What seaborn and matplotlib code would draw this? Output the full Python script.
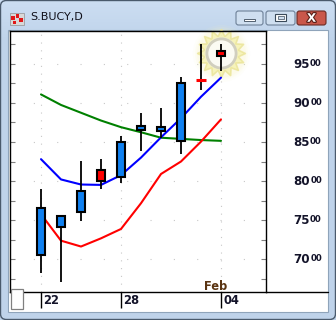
import numpy as np
import pandas as pd
import matplotlib
matplotlib.use("Agg")
import matplotlib.pyplot as plt
import seaborn as sns
from matplotlib.patches import Rectangle, FancyBboxPatch
from matplotlib.path import Path
import matplotlib.patheffects as pe

# ---------------- data ----------------
title = "S.BUCY,D"
dates = ["Jan 22", "Jan 23", "Jan 24", "Jan 25", "Jan 28",
         "Jan 29", "Jan 30", "Jan 31", "Feb 01", "Feb 04"]
opens = [7050, 7415, 7605, 8140, 8045, 8655, 8640, 8515, 9290, 9670]
highs = [7895, 7560, 8255, 8280, 8575, 8870, 8930, 9330, 9755, 9755]
lows = [6815, 6710, 7490, 7895, 7970, 8390, 8545, 8340, 9165, 9415]
closes = [7660, 7545, 7875, 8005, 8505, 8700, 8695, 9250, 9290, 9605]
ma_fast = [8280, 8020, 7955, 7950, 8075, 8300, 8560, 8805, 9080, 9325]
ma_mid = [7575, 7235, 7160, 7265, 7385, 7715, 8090, 8250, 8505, 8790]
ma_slow = [9110, 8975, 8875, 8775, 8690, 8625, 8555, 8540, 8525, 8515]
x_tick_pos = [0, 4, 9]
x_tick_labels = ["22", "28", "04"]
month_label = "Feb"
y_tick_vals = [7000, 7500, 8000, 8500, 9000, 9500]

df = pd.DataFrame({"idx": np.arange(len(dates)), "date": dates,
                   "open": opens, "high": highs, "low": lows, "close": closes,
                   "ma_fast": ma_fast, "ma_mid": ma_mid, "ma_slow": ma_slow})

# ---------------- figure / window chrome ----------------
sns.set_style("white")
plt.rcParams["font.family"] = ["DejaVu Sans"]
W, H = 336, 320
fig = plt.figure(figsize=(W / 100, H / 100), dpi=100)
fig.patch.set_facecolor("#bfd4eb")


def fx(x):
    return x / W


def fy(y):
    return 1 - y / H


def prect(x0, y0, x1, y1, zorder=-1, **kw):
    r = Rectangle((fx(x0), fy(y1)), (x1 - x0) / W, (y1 - y0) / H,
                  transform=fig.transFigure, zorder=zorder, **kw)
    fig.add_artist(r)
    return r


def pbox(x0, y0, x1, y1, rs=2.5, zorder=-1, **kw):
    r = FancyBboxPatch((fx(x0), fy(y1)), (x1 - x0) / W, (y1 - y0) / H,
                       boxstyle=f"round,pad=0,rounding_size={rs / W}",
                       transform=fig.transFigure, zorder=zorder, **kw)
    fig.add_artist(r)
    return r


# background gradient for the title bar
bg = fig.add_axes([0, 0, 1, 1], zorder=-10)
grad = np.linspace(0, 1, 320)[:, None]
c_top = np.array([0.80, 0.87, 0.95])
c_bot = np.array([0.75, 0.83, 0.92])
img = c_top + (c_bot - c_top) * np.clip(grad / 0.12, 0, 1)[..., None]
img = np.repeat(img, 2, axis=1)
bg.imshow(img, aspect="auto", extent=[0, 1, 0, 1], origin="upper")
bg.axis("off")

# outer border
pbox(0.5, 0.5, 335.5, 319.5, rs=6, facecolor="none", edgecolor="#4a5a6c", lw=1.0)
# client area
prect(8, 30, 328, 312, facecolor="white", edgecolor="#8fa4ba", lw=0.8)

# title icon
prect(10, 13, 24, 25, facecolor="#d8d8d8", edgecolor="#909090", lw=0.5)
for (a, b, c, d) in [(11, 16, 15, 20), (16, 14, 19, 18), (19, 18, 23, 22), (13, 21, 16, 24)]:
    prect(a, b, c, d, facecolor="#e01818", edgecolor="none")
fig.text(fx(30), fy(17), title, fontsize=8, color="#10101a", ha="left", va="center")

# caption buttons
pbox(236, 11, 263, 25, facecolor="#cfdff0", edgecolor="#6d8097", lw=0.8)
pbox(266, 11, 295, 25, facecolor="#cfdff0", edgecolor="#6d8097", lw=0.8)
pbox(297, 11, 326, 25, facecolor="#c9574a", edgecolor="#6b2a22", lw=0.8)
prect(244, 18.5, 255, 21, facecolor="white", edgecolor="#3a4a5a", lw=0.6)
prect(275, 13.5, 286, 21, facecolor="white", edgecolor="#3a4a5a", lw=0.8)
prect(277.5, 16, 283.5, 19, facecolor="#cfdff0", edgecolor="#3a4a5a", lw=0.5)
fig.text(fx(311.5), fy(18.3), "X", fontsize=8.5, fontweight="bold", color="white",
         ha="center", va="center",
         path_effects=[pe.withStroke(linewidth=1.6, foreground="#5a2018")])

# ---------------- chart axes ----------------
ax = fig.add_axes([fx(10), fy(292), 256 / W, 261 / H], zorder=1)
ax.set_facecolor("white")
ax.set_xlim(-1.55, 11.25)
ax.set_ylim(6577, 9923)

# dotted grid
for xv in x_tick_pos:
    ax.axvline(xv, color="#c8c8c8", lw=0.8, ls=(0, (1, 6)), zorder=0)
for yv in y_tick_vals:
    ax.axhline(yv, color="#c8c8c8", lw=0.8, ls=(0, (1, 20)), zorder=0)

# moving averages
sns.lineplot(data=df, x="idx", y="ma_slow", color="#008000", lw=1.5, ax=ax, zorder=2)
sns.lineplot(data=df, x="idx", y="ma_fast", color="#0000ff", lw=1.5, ax=ax, zorder=2)
sns.lineplot(data=df, x="idx", y="ma_mid", color="#ff0000", lw=1.5, ax=ax, zorder=2)

# highlight glow around last candle
n = 16
ang = np.linspace(0, 2 * np.pi, 2 * n, endpoint=False) + np.pi / 2
rad = np.where(np.arange(2 * n) % 2 == 0, 1.0, 0.72)
verts = np.column_stack([rad * np.cos(ang), rad * np.sin(ang)])
verts = np.vstack([verts, verts[:1]])
codes = [Path.MOVETO] + [Path.LINETO] * (2 * n - 1) + [Path.CLOSEPOLY]
star = Path(verts, codes)
gx = df["idx"].iloc[-1]
gy = (df["open"].iloc[-1] + df["close"].iloc[-1]) / 2
for s, a in [(1700, 0.08), (1450, 0.12), (1250, 0.16)]:
    ax.scatter([gx], [gy], s=s, marker="o", color="#f8f5c0", alpha=a, lw=0,
               zorder=1.5, clip_on=False)
ax.scatter([gx], [gy], s=1180, marker=star, facecolor="#f5f2b2", edgecolor="#ebe59a",
           lw=1.2, alpha=0.85, zorder=1.6, clip_on=False)
ax.scatter([gx], [gy], s=560, marker="o", facecolor="#f2f0c8", edgecolor="none",
           alpha=0.9, zorder=1.65, clip_on=False)
ax.scatter([gx], [gy], s=440, marker="o", facecolor="#fcfcf6", edgecolor="#cfcdbd",
           lw=2.0, alpha=0.95, zorder=1.7, clip_on=False)

# candles
for i, r in df.iterrows():
    ax.vlines(r["idx"], r["low"], r["high"], color="black", lw=1.3, zorder=3)
    if r["close"] == r["open"]:
        ax.hlines(r["close"], r["idx"] - 0.25, r["idx"] + 0.25, color="#ff0000",
                  lw=2.2, zorder=4)
    else:
        up = r["close"] > r["open"]
        ax.bar(r["idx"], abs(r["close"] - r["open"]), bottom=min(r["open"], r["close"]),
               width=0.42, color="#0f80f0" if up else "#ff0000",
               edgecolor="black", lw=1.5, zorder=4)

# axes styling
for sp in ax.spines.values():
    sp.set_color("black")
    sp.set_linewidth(1.0)
ax.set_xlabel("")
ax.set_ylabel("")
ax.set_xticks(x_tick_pos)
ax.set_xticklabels([])
ax.tick_params(axis="x", direction="out", length=11.5, width=1.0, color="black",
               labelbottom=False, bottom=True)
ax.set_yticks(np.arange(6750, 9900, 250))
ax.set_yticklabels([])
ax.tick_params(axis="y", direction="in", length=3.5, width=0.8, color="#808080",
               left=True, right=True, labelleft=False, labelright=False)

# x labels beside the ticks
for xv, lbl in zip(x_tick_pos, x_tick_labels):
    ax.annotate(lbl, xy=(xv, 0), xycoords=("data", "axes fraction"),
                xytext=(1.6, -8.8), textcoords="offset points",
                ha="left", va="baseline", fontsize=8.3, fontweight="bold",
                color="#14142a", annotation_clip=False)
ax.annotate(month_label, xy=(x_tick_pos[-1], 0), xycoords=("data", "axes fraction"),
            xytext=(-4.0, 1.5), textcoords="offset points",
            ha="center", va="baseline", fontsize=8.3, fontweight="bold",
            color="#5a3412", annotation_clip=False)

# y labels on the right with small trailing zeros
for yv in y_tick_vals:
    s = str(yv)
    t = ax.annotate(s[:2], xy=(283 / 256, yv), xycoords=("axes fraction", "data"),
                    xytext=(0, -2.8), textcoords="offset points",
                    ha="left", va="baseline", fontsize=8.6, fontweight="bold",
                    color="#14142a", annotation_clip=False)
    ax.annotate(s[2:], xy=(1, 1), xycoords=t, xytext=(0.4, -0.6),
                textcoords="offset points", ha="left", va="top", fontsize=6.2,
                fontweight="bold", color="#14142a", annotation_clip=False)

# bottom axis extension and small corner box
fig.add_artist(plt.Line2D([fx(266), fx(328)], [fy(292), fy(292)], color="black",
                          lw=1.0, transform=fig.transFigure, zorder=5))
prect(10.5, 289, 23, 309, zorder=5, facecolor="white", edgecolor="#808080", lw=0.9)

fig.savefig("out.png", dpi=100, facecolor=fig.get_facecolor())
